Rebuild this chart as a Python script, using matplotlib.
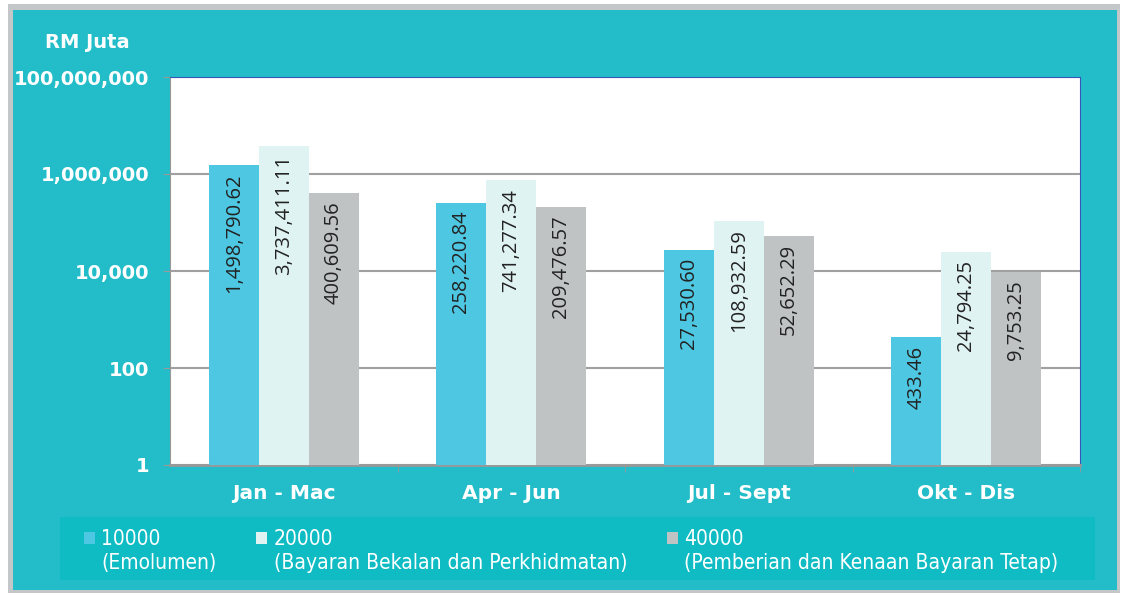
import matplotlib.pyplot as plt
from matplotlib.patches import Rectangle
from matplotlib.legend_handler import HandlerPatch
from matplotlib.ticker import FixedLocator, NullLocator
import numpy as np

# data
categories = ['Jan - Mac', 'Apr - Jun', 'Jul - Sept', 'Okt - Dis']
emolumen = [1498790.62, 258220.84, 27530.60, 433.46]
bekalan = [3737411.11, 741277.34, 108932.59, 24794.25]
pemberian = [400609.56, 209476.57, 52652.29, 9753.25]
series_names = ['10000\n(Emolumen)',
                '20000\n(Bayaran Bekalan dan Perkhidmatan)',
                '40000\n(Pemberian dan Kenaan Bayaran Tetap)']
series_colors = ['#4ec8e2', '#e0f3f3', '#c0c3c4']
yticks = [1, 100, 10000, 1000000, 100000000]
ytick_labels = ['1', '100', '10,000', '1,000,000', '100,000,000']

W, H = 1122, 596
fig = plt.figure(figsize=(W / 100, H / 100), dpi=100, facecolor='white')

# frame and teal background
fig.add_artist(Rectangle((8 / W, 1 - 593 / H), 1112 / W, 589 / H,
                         transform=fig.transFigure, facecolor='#c3c7c7', edgecolor='none', zorder=-3))
fig.add_artist(Rectangle((13 / W, 1 - 590 / H), 1104 / W, 580 / H,
                         transform=fig.transFigure, facecolor='#22bdc8', edgecolor='none', zorder=-2))
# legend band
fig.add_artist(Rectangle((60 / W, 1 - 580 / H), 1035 / W, 63 / H,
                         transform=fig.transFigure, facecolor='#10bcc4', edgecolor='none', zorder=-1))

ax = fig.add_axes([170 / W, 1 - 465 / H, 910 / W, 388 / H])
ax.set_facecolor('white')

x = np.arange(len(categories))
width = 0.22
all_series = [emolumen, bekalan, pemberian]
handles = []
for i, vals in enumerate(all_series):
    pos = x + (i - 1) * width
    bars = ax.bar(pos, vals, width=width, color=series_colors[i], bottom=1, zorder=3)
    handles.append(bars.patches[0])
    for p, v in zip(pos, vals):
        ax.annotate(f'{v:,.2f}', (p, v), xytext=(0, -6), textcoords='offset points',
                    rotation=90, ha='center', va='top', fontsize=14.5,
                    family='Open Sans', color='#222222', zorder=4)

ax.set_yscale('log')
ax.set_ylim(1, 1e8)
ax.set_xlim(-0.5, len(categories) - 0.5)
ax.yaxis.set_major_locator(FixedLocator(yticks))
ax.yaxis.set_minor_locator(NullLocator())
ax.set_yticklabels(ytick_labels)
ax.set_xticks(x)
ax.set_xticklabels(categories)
ax.set_xticks(np.arange(len(categories)) + 0.5, minor=True)
ax.tick_params(axis='x', which='major', length=0, pad=14)
ax.tick_params(axis='x', which='minor', length=5, color='#999999')
ax.tick_params(axis='y', length=5, color='#999999', pad=10)
for lab in ax.get_xticklabels() + ax.get_yticklabels():
    lab.set_color('white')
    lab.set_fontweight('bold')
    lab.set_fontsize(14)
for lab in ax.get_xticklabels():
    lab.set_fontsize(14.5)

ax.grid(axis='y', color='#a0a0a0', linewidth=1.5, zorder=1)
ax.spines['left'].set_color('#999999')
ax.spines['bottom'].set_color('#999999')
ax.spines['bottom'].set_linewidth(2)
ax.spines['top'].set_color('#3858b8')
ax.spines['right'].set_color('#3858b8')

fig.text(45 / W, 1 - 43 / H, 'RM Juta', color='white', fontweight='bold',
         fontsize=14, va='center', ha='left')


# small square handle sitting next to the first line of each label
def top_square(legend, orig_handle, xdescent, ydescent, width, height, fontsize):
    sq = 8
    return Rectangle((-xdescent + width - sq, -ydescent + height - 6.6), sq, sq)


leg = fig.legend(handles, series_names, loc='upper left',
                 bbox_to_anchor=(75 / W, 1 - 521 / H), ncol=3,
                 frameon=False, handlelength=0.55, handleheight=2.3, handletextpad=0.3,
                 columnspacing=1.9, borderaxespad=0,
                 handler_map={Rectangle: HandlerPatch(patch_func=top_square)},
                 prop={'family': 'DejaVu Sans', 'stretch': 'condensed', 'size': 15})
for t in leg.get_texts():
    t.set_color('white')

fig.savefig('out.png', dpi=100, facecolor=fig.get_facecolor())
